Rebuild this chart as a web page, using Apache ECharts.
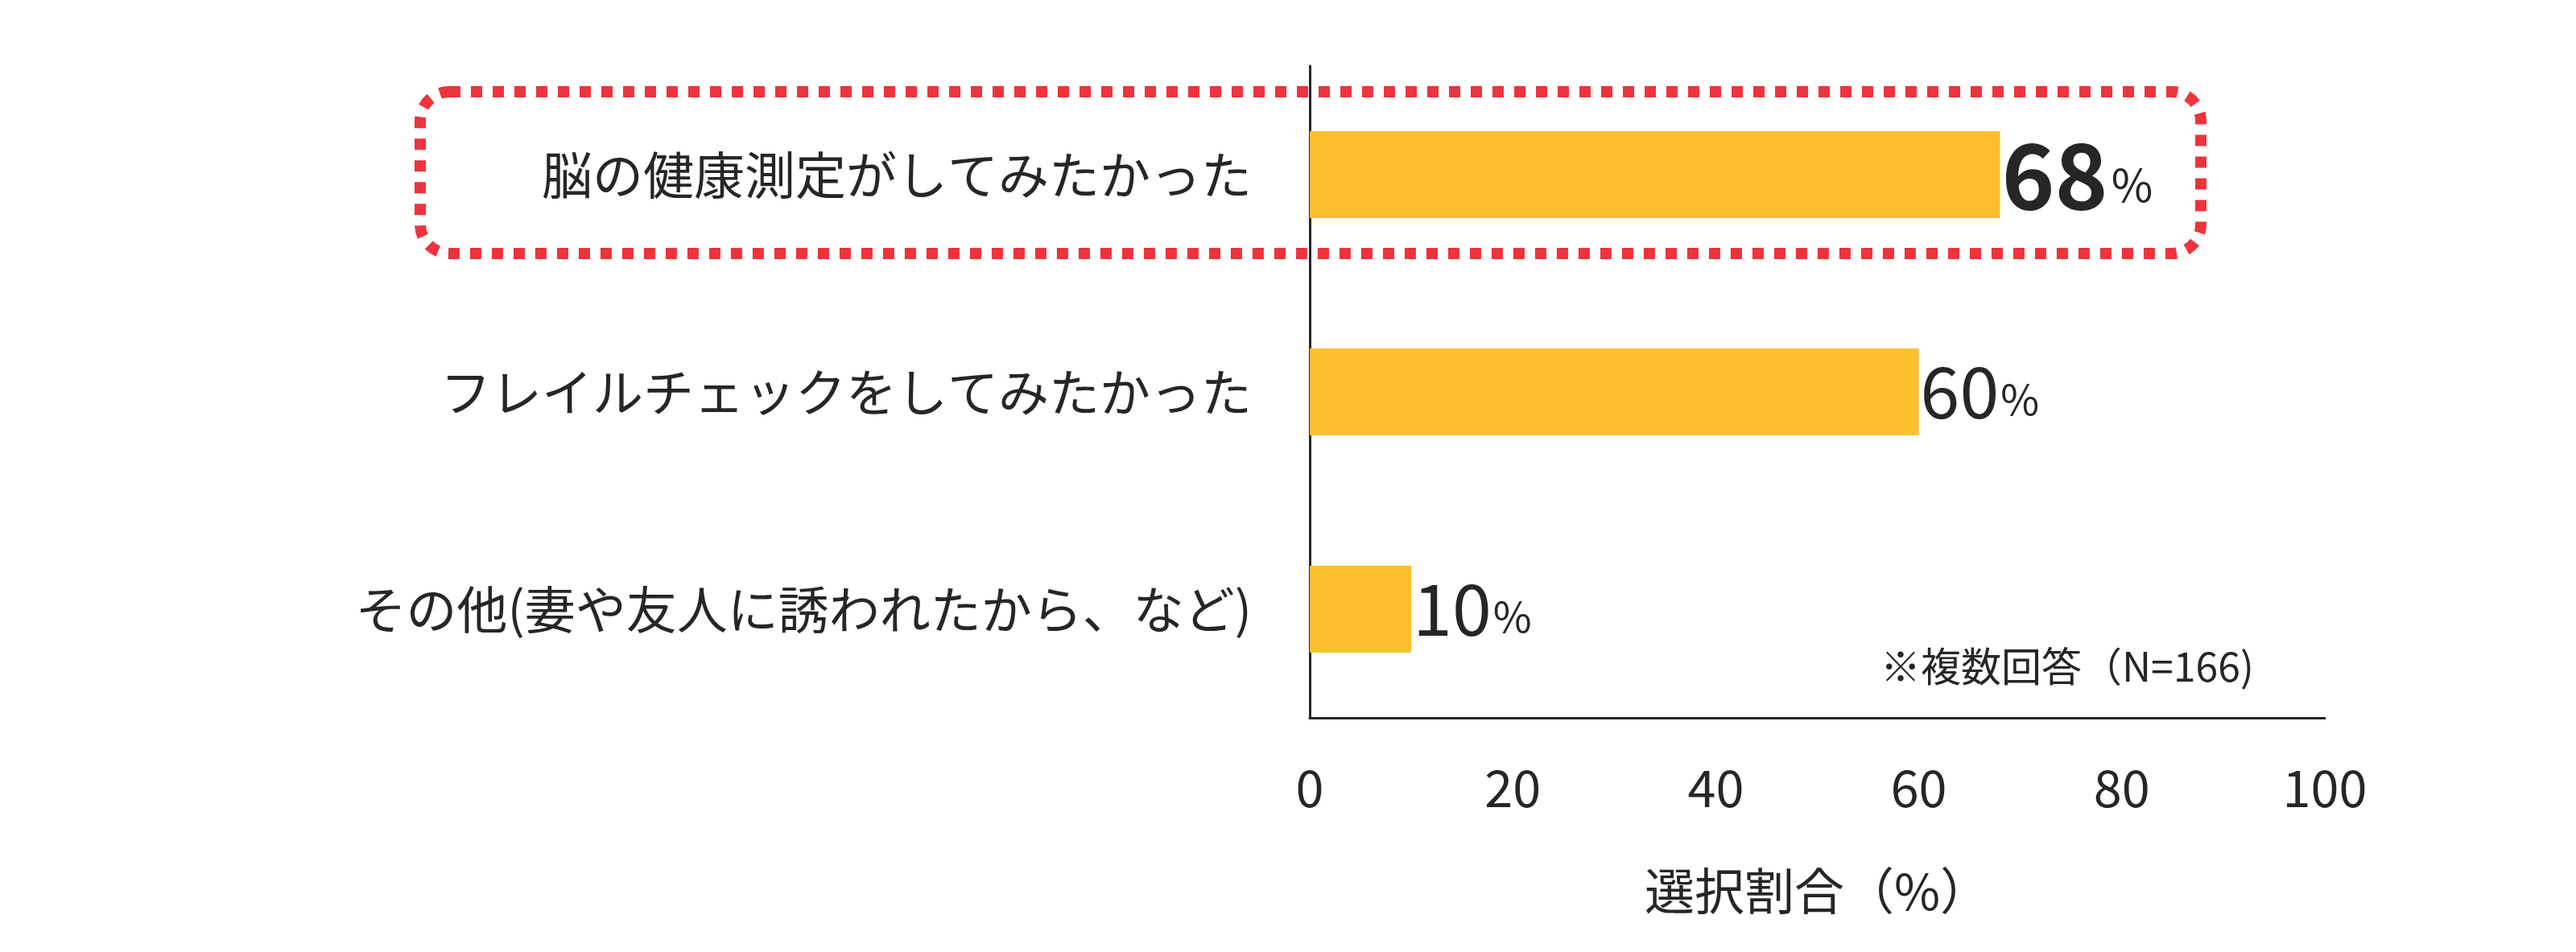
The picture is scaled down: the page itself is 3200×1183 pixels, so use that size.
<!DOCTYPE html>
<html>
<head>
<meta charset="utf-8">
<script src="https://cdn.jsdelivr.net/npm/echarts@6/dist/echarts.min.js"></script>
<style>
  html, body { margin: 0; padding: 0; background: #fff; }
  #chart { width: 3200px; height: 1183px; }
</style>
</head>
<body>
<div id="chart"></div>
<script>
// データ
const categories = ['脳の健康測定がしてみたかった', 'フレイルチェックをしてみたかった', 'その他(妻や友人に誘われたから、など)'];
const values = [68, 60, 10];
const xTicks = [0, 20, 40, 60, 80, 100];
const axisName = '選択割合（%）';
const note = '※複数回答（N=166)';

const FONT = '"Noto Sans CJK JP", "Noto Sans", sans-serif';
const TEXT = '#262626';

const chart = echarts.init(document.getElementById('chart'));

const option = {
  animation: false,
  textStyle: { fontFamily: FONT, color: TEXT },
  grid: { left: 1627, right: 312, top: 82, bottom: 291 },
  xAxis: {
    type: 'value',
    min: xTicks[0],
    max: xTicks[xTicks.length - 1],
    interval: 20,
    axisLine: { show: true, lineStyle: { color: TEXT, width: 3 } },
    axisTick: { show: false },
    splitLine: { show: false },
    axisLabel: { fontSize: 63, color: TEXT, margin: 56, fontFamily: FONT },
    name: axisName,
    nameLocation: 'middle',
    nameGap: 184,
    nameTextStyle: { fontSize: 62, color: TEXT, fontFamily: FONT }
  },
  yAxis: {
    type: 'category',
    inverse: true,
    data: categories,
    axisLine: { show: true, lineStyle: { color: TEXT, width: 3 } },
    axisTick: { show: false },
    axisLabel: { fontSize: 63, color: TEXT, margin: 72, fontFamily: FONT }
  },
  series: [{
    type: 'bar',
    barWidth: 108,
    itemStyle: { color: '#FCC02E' },
    data: values.map((v, i) => ({
      value: v,
      label: {
        show: true,
        position: 'right',
        distance: 2,
        formatter: '{n|{c}}{p|%}',
        rich: i === 0 ? {
          n: { fontSize: 112, fontWeight: 'bold', color: TEXT, fontFamily: FONT },
          p: { fontSize: 56, color: TEXT, fontFamily: FONT, padding: [26, 0, 0, 4] }
        } : {
          n: { fontSize: 88, color: TEXT, fontFamily: FONT },
          p: { fontSize: 52, color: TEXT, fontFamily: FONT, padding: [18, 0, 0, 2] }
        }
      }
    }))
  }],
  graphic: [
    {
      type: 'rect',
      shape: { x: 522, y: 114, width: 2212, height: 201, r: 36 },
      style: { fill: 'none', stroke: '#EE333D', lineWidth: 14, lineDash: [14, 13] },
      z: 10
    },
    {
      type: 'text',
      right: 400,
      top: 803,
      style: { text: note, fontSize: 50, fill: TEXT, fontFamily: FONT }
    }
  ]
};

chart.setOption(option);
</script>
</body>
</html>
